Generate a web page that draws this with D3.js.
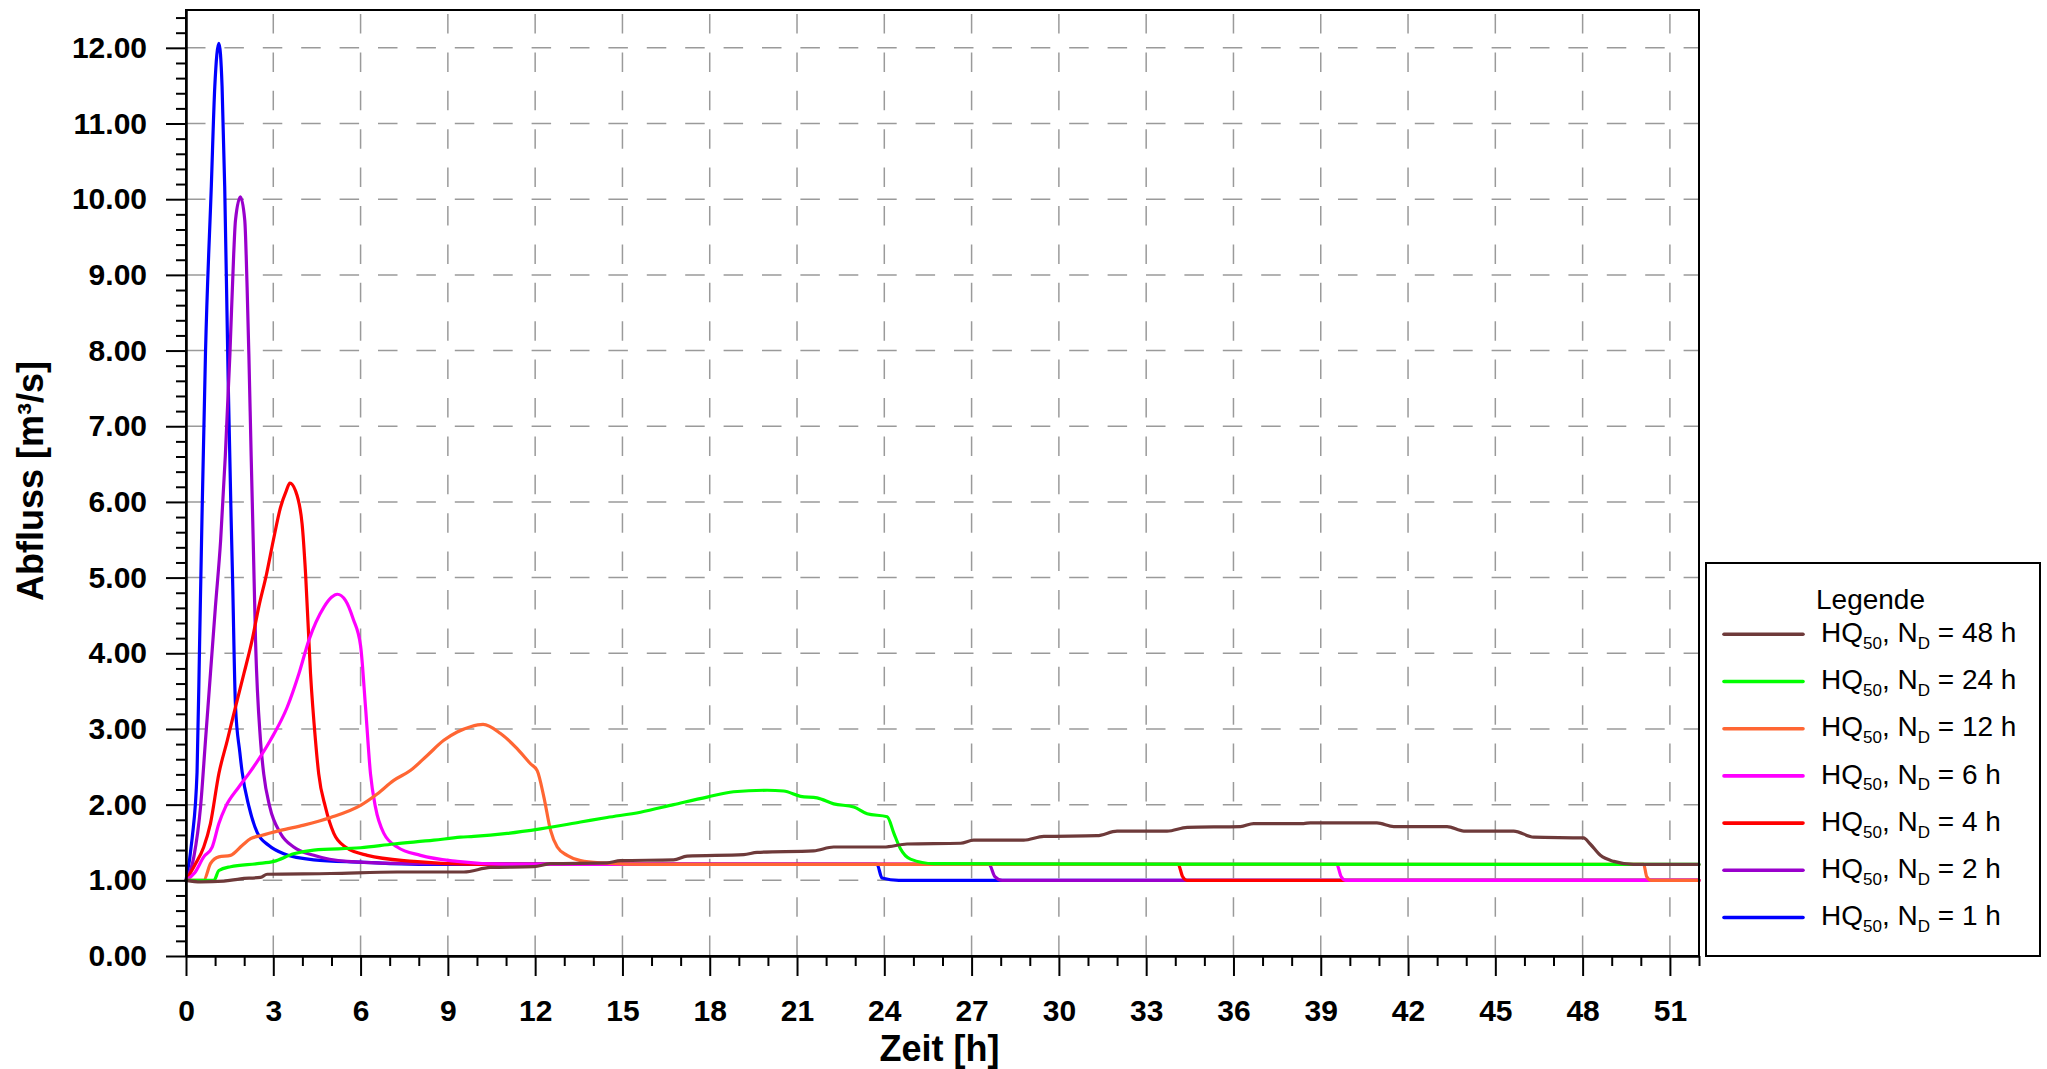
<!DOCTYPE html>
<html>
<head>
<meta charset="utf-8">
<script src="https://cdn.jsdelivr.net/npm/d3@7"></script>
<style>
  html, body { margin: 0; padding: 0; background: #fff; }
  svg { display: block; }
  text { font-family: "Liberation Sans", Arial, sans-serif; }
</style>
</head>
<body>
<svg id="chart" width="2047" height="1069"></svg>
<script>
// ---- Data (time in h, discharge in m³/s) ----
const t1h = [0, 0.21, 0.38, 0.47, 0.55, 0.67, 0.87, 0.99, 1.13, 1.24, 1.33, 1.45, 1.55, 1.60, 1.70, 1.85, 1.93, 2.16, 2.45, 2.85, 3.36, 4.39, 6.0, 8.0, 23.75, 23.92, 24.5, 52];
const q1h = [1.0, 1.55, 2.43, 4.19, 5.8, 7.97, 10.17, 11.49, 12.06, 11.49, 10.17, 7.6, 5.8, 5.0, 3.31, 2.69, 2.43, 1.98, 1.63, 1.46, 1.35, 1.27, 1.24, 1.21, 1.21, 1.03, 1.0, 1.0];

const t2h = [0, 0.27, 0.50, 0.67, 0.84, 1.01, 1.19, 1.35, 1.51, 1.64, 1.70, 1.87, 2.02, 2.10, 2.16, 2.24, 2.31, 2.39, 2.56, 2.67, 2.88, 3.25, 3.70, 4.39, 5.54, 8.0, 27.6, 27.8, 28.05, 52];
const q2h = [1.0, 1.31, 1.97, 2.85, 3.73, 4.61, 5.49, 6.6, 7.96, 9.28, 9.72, 10.03, 9.72, 8.84, 7.96, 6.6, 5.49, 4.17, 2.85, 2.41, 1.97, 1.62, 1.44, 1.33, 1.25, 1.22, 1.21, 1.05, 1.0, 1.0];

const t4h = [0, 0.3, 0.61, 0.84, 1.13, 1.42, 1.70, 1.99, 2.27, 2.50, 2.77, 3.0, 3.25, 3.45, 3.57, 3.76, 3.99, 4.11, 4.28, 4.45, 4.56, 4.79, 5.08, 5.48, 6.23, 7.83, 10, 34.1, 34.25, 34.4, 52];
const q4h = [1.0, 1.2, 1.44, 1.75, 2.41, 2.85, 3.29, 3.73, 4.17, 4.61, 5.05, 5.49, 5.93, 6.15, 6.25, 6.15, 5.71, 5.05, 3.73, 2.85, 2.41, 1.97, 1.62, 1.44, 1.33, 1.25, 1.21, 1.21, 1.05, 1.0, 1.0];

const t6h = [0, 0.3, 0.61, 0.90, 1.13, 1.36, 1.81, 2.16, 2.90, 3.48, 3.88, 4.22, 4.74, 5.0, 5.20, 5.48, 5.75, 6.0, 6.17, 6.34, 6.51, 6.80, 7.26, 8.06, 9.32, 11, 39.55, 39.7, 39.85, 52];
const q6h = [1.0, 1.1, 1.31, 1.44, 1.75, 1.97, 2.23, 2.41, 2.85, 3.29, 3.73, 4.17, 4.61, 4.74, 4.78, 4.70, 4.45, 4.1, 3.29, 2.41, 1.97, 1.62, 1.44, 1.33, 1.25, 1.21, 1.21, 1.05, 1.0, 1.0];

const t12h = [0, 0.61, 0.84, 1.13, 1.53, 1.93, 2.22, 2.56, 3.25, 4.05, 4.97, 6.0, 6.57, 7.14, 7.71, 8.29, 8.86, 9.32, 9.78, 10.21, 10.81, 11.38, 11.84, 12.07, 12.30, 12.53, 12.76, 13.1, 13.56, 14.24, 16, 50.1, 50.2, 50.35, 52];
const q12h = [1.0, 1.0, 1.22, 1.31, 1.33, 1.46, 1.55, 1.59, 1.66, 1.73, 1.83, 1.99, 2.14, 2.32, 2.45, 2.65, 2.85, 2.96, 3.03, 3.06, 2.94, 2.74, 2.54, 2.45, 2.10, 1.66, 1.44, 1.33, 1.26, 1.23, 1.21, 1.21, 1.05, 1.0, 1.0];

const t24h = [0, 0.96, 1.13, 1.53, 2.45, 3.02, 3.70, 4.39, 6.0, 7.14, 8.52, 9.43, 9.89, 11.04, 12.18, 13.56, 14.47, 15.62, 16.76, 17.91, 18.82, 19.97, 20.54, 21.12, 21.69, 22.26, 22.95, 23.41, 24.1, 24.33, 24.55, 24.9, 25.7, 52];
const q24h = [1.0, 1.0, 1.13, 1.18, 1.22, 1.25, 1.35, 1.40, 1.43, 1.48, 1.53, 1.57, 1.58, 1.62, 1.68, 1.77, 1.83, 1.90, 2.00, 2.10, 2.17, 2.19, 2.18, 2.11, 2.09, 2.01, 1.97, 1.88, 1.84, 1.62, 1.42, 1.28, 1.22, 1.21];

const t48h = [0, 0.5, 1.3, 1.87, 2.56, 2.79, 4.97, 7.26, 9.55, 10.46, 11.95, 12.53, 14.47, 14.93, 16.76, 17.22, 19.17, 19.63, 21.57, 22.26, 23.98, 24.78, 26.62, 27.07, 28.79, 29.48, 31.31, 32.0, 33.72, 34.41, 36.24, 36.69, 38.41, 38.64, 40.93, 41.51, 43.34, 43.92, 45.63, 46.32, 48.03, 48.26, 48.61, 49.07, 49.75, 52];
const q48h = [1.0, 0.98, 0.99, 1.02, 1.04, 1.08, 1.09, 1.11, 1.11, 1.17, 1.18, 1.22, 1.23, 1.26, 1.27, 1.32, 1.34, 1.37, 1.39, 1.44, 1.44, 1.48, 1.49, 1.53, 1.53, 1.58, 1.59, 1.65, 1.65, 1.70, 1.71, 1.75, 1.75, 1.76, 1.76, 1.71, 1.71, 1.65, 1.65, 1.57, 1.56, 1.48, 1.33, 1.25, 1.21, 1.21];

// legend order (top to bottom)
const durations = ["48", "24", "12", "6", "4", "2", "1"];
const seriesColors = ["#6E3A3A", "#00FF00", "#FF6633", "#FF00FF", "#FF0000", "#9900CC", "#0000FF"];
const seriesTimes = [t48h, t24h, t12h, t6h, t4h, t2h, t1h];
const seriesValues = [q48h, q24h, q12h, q6h, q4h, q2h, q1h];

const xMajorTicks = d3.range(0, 52, 3);          // 0,3,...,51
const xMinorTicks = d3.range(0, 53).filter(d => d % 3 !== 0);
const yMajorTicks = d3.range(0, 13);             // 0..12
const yMinorTicks = d3.range(0, 63).map(d => d / 5).filter(d => Math.abs(d - Math.round(d)) > 1e-9);

const xLabel = "Zeit [h]";
const yLabel = "Abfluss [m³/s]";
const legendTitle = "Legende";

// ---- Layout ----
const svg = d3.select("#chart");
const L = 186, R = 1699, T = 10, B = 956;

const x = d3.scaleLinear().domain([0, 52]).range([L, R]);
const y = d3.scaleLinear().domain([0, 12.5]).range([B, T]);

// Grid
const grid = svg.append("g").attr("stroke", "#9a9a9a").attr("stroke-width", 1.5).attr("fill", "none");
grid.selectAll("line.h").data(yMajorTicks.filter(d => d > 0)).join("line")
  .attr("class", "h")
  .attr("x1", L).attr("x2", R)
  .attr("y1", d => y(d)).attr("y2", d => y(d))
  .attr("stroke-dasharray", "19.5,18.9");
grid.selectAll("line.v").data(xMajorTicks.filter(d => d > 0)).join("line")
  .attr("class", "v")
  .attr("x1", d => x(d)).attr("x2", d => x(d))
  .attr("y1", T).attr("y2", B)
  .attr("stroke-dasharray", "19.5,18.9")
  .attr("stroke-dashoffset", 34.4);

// Lines (drawn bottom to top: 1h first, 48h last)
const lineGen = d3.line().x(d => x(d[0])).y(d => y(d[1])).curve(d3.curveMonotoneX);
const linesG = svg.append("g");
for (let i = durations.length - 1; i >= 0; i--) {
  const pts = seriesTimes[i].map((t, j) => [t, seriesValues[i][j]]);
  linesG.append("path")
    .datum(pts)
    .attr("d", lineGen)
    .attr("fill", "none")
    .attr("stroke", seriesColors[i])
    .attr("stroke-width", 3.2)
    .attr("stroke-linejoin", "round")
    .attr("stroke-linecap", "round");
}

// Frame
svg.append("rect").attr("x", L).attr("y", T).attr("width", R - L).attr("height", B - T)
  .attr("fill", "none").attr("stroke", "#000").attr("stroke-width", 2);

// Axes
const fontAxis = "bold 30px 'Liberation Sans', Arial, sans-serif";
const yAxis = svg.append("g").attr("transform", `translate(${L},0)`)
  .call(d3.axisLeft(y).tickValues(yMajorTicks).tickFormat(d3.format(".2f")).tickSize(20).tickSizeOuter(0).tickPadding(19));
const yAxisMinor = svg.append("g").attr("transform", `translate(${L},0)`)
  .call(d3.axisLeft(y).tickValues(yMinorTicks).tickFormat("").tickSize(10).tickSizeOuter(0));
const xAxis = svg.append("g").attr("transform", `translate(0,${B})`)
  .call(d3.axisBottom(x).tickValues(xMajorTicks).tickFormat(d3.format("d")).tickSize(20).tickSizeOuter(0).tickPadding(24));
const xAxisMinor = svg.append("g").attr("transform", `translate(0,${B})`)
  .call(d3.axisBottom(x).tickValues(xMinorTicks).tickFormat("").tickSize(10).tickSizeOuter(0));

[yAxis, yAxisMinor, xAxis, xAxisMinor].forEach(g => {
  g.select(".domain").attr("stroke", "#000").attr("stroke-width", 2);
  g.selectAll(".tick line").attr("stroke", "#000").attr("stroke-width", 2);
  g.selectAll(".tick text").style("font", fontAxis).attr("fill", "#000");
});

// Axis titles
svg.append("text")
  .attr("x", (L + R) / 2 - 3).attr("y", 1061)
  .attr("text-anchor", "middle")
  .style("font", "bold 36px 'Liberation Sans', Arial, sans-serif")
  .text(xLabel);
svg.append("text")
  .attr("transform", `translate(42.5,481) rotate(-90)`)
  .attr("text-anchor", "middle")
  .style("font", "bold 36px 'Liberation Sans', Arial, sans-serif")
  .text(yLabel);

// Legend
const lg = svg.append("g");
lg.append("rect").attr("x", 1706).attr("y", 563).attr("width", 334).attr("height", 393)
  .attr("fill", "#fff").attr("stroke", "#000").attr("stroke-width", 2);
lg.append("text").attr("x", 1816).attr("y", 609)
  .style("font", "28px 'Liberation Sans', Arial, sans-serif")
  .text(legendTitle);
durations.forEach((dur, i) => {
  const ly = 634.3 + i * 47.2;
  lg.append("line").attr("x1", 1724).attr("x2", 1803).attr("y1", ly).attr("y2", ly)
    .attr("stroke", seriesColors[i]).attr("stroke-width", 3.6).attr("stroke-linecap", "round");
  const t = lg.append("text").attr("x", 1821).attr("y", ly + 7.7)
    .style("font", "28px 'Liberation Sans', Arial, sans-serif")
    .attr("xml:space", "preserve");
  t.append("tspan").text("HQ");
  t.append("tspan").attr("dy", 6.7).style("font-size", "17px").text("50");
  t.append("tspan").attr("dy", -6.7).text(", N");
  t.append("tspan").attr("dy", 6.7).style("font-size", "17px").text("D");
  t.append("tspan").attr("dy", -6.7).text(` = ${dur} h`);
});
</script>
</body>
</html>
